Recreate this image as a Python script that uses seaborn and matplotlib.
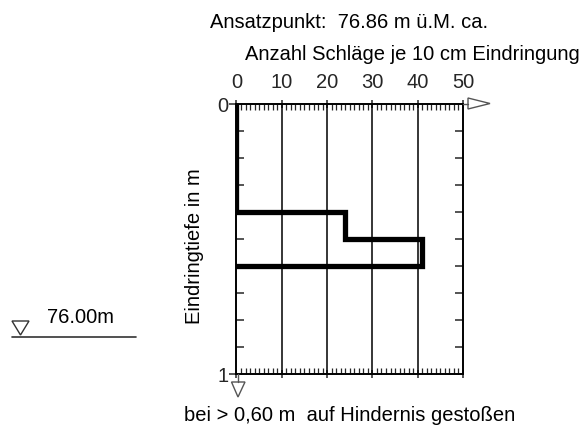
import matplotlib
matplotlib.use("Agg")
import matplotlib.pyplot as plt
from matplotlib.patches import Polygon
from matplotlib.lines import Line2D
import numpy as np
import pandas as pd
import seaborn as sns

# Dynamic probing record: blows per 10 cm over depth layers
layer_top = [0.0, 0.4, 0.5]
layer_bottom = [0.4, 0.5, 0.6]
blows = [0, 24, 41]
blow_ticks = [0, 10, 20, 30, 40, 50]
depth_ticks = [0, 1]
start_elev = "76.86"
water_elev = "76.00m"

# Step outline of the blow-count profile
px, py = [], []
for t, b, n in zip(layer_top, layer_bottom, blows):
    px += [n, n]
    py += [t, b]
px.append(0)
py.append(layer_bottom[-1])
profile = pd.DataFrame({"order": range(len(px)), "blows": px, "depth": py})

sns.set_style("white")
plt.rcParams["font.family"] = ["Liberation Sans", "DejaVu Sans"]
FS = 14.5

W, H = 588, 430
fig = plt.figure(figsize=(W / 100, H / 100), dpi=100)


def fx(x):
    return x / W


def fy(y):
    return 1 - y / H


x0, x1, y0, y1 = 236.5, 463, 104, 374
ax = fig.add_axes([fx(x0), fy(y1), fx(x1 - x0), (y1 - y0) / H])

sns.lineplot(data=profile, x="blows", y="depth", sort=False, estimator=None,
             color="black", linewidth=3.8, ax=ax,
             solid_joinstyle="miter", solid_capstyle="projecting", zorder=5)

ax.set_xlim(0, 50)
ax.set_ylim(1, 0)
ax.set_xlabel("")
ax.set_ylabel("")

for s in ax.spines.values():
    s.set_linewidth(1.4)
    s.set_color("black")

for v in blow_ticks[1:-1]:
    ax.axvline(v, color="black", lw=1.1, zorder=1)

ax.xaxis.set_ticks_position("both")
ax.xaxis.set_label_position("top")
ax.set_xticks(blow_ticks)
ax.set_xticks(np.arange(0, 51, 1), minor=True)
ax.tick_params(axis="x", which="major", direction="inout", length=6, width=1.1,
               top=True, bottom=True, labeltop=True, labelbottom=False,
               labelsize=FS, pad=6)
ax.tick_params(axis="x", which="minor", direction="in", length=4.5, width=0.9,
               top=True, bottom=True)

ax.set_yticks(depth_ticks)
ax.set_yticks(np.arange(0.1, 1.0, 0.1), minor=True)
ax.tick_params(axis="y", which="major", direction="out", length=5, width=1.1,
               left=True, right=False, labelsize=FS, pad=1)
ax.tick_params(axis="y", which="minor", direction="in", length=6, width=1.1,
               left=True, right=True)

# Axis extension arrows
top_arrow = Polygon([[fx(468), fy(98)], [fx(490), fy(103.5)], [fx(468), fy(109)]],
                    closed=True, fill=False, edgecolor="#555555", lw=1.0,
                    transform=fig.transFigure, clip_on=False)
fig.add_artist(top_arrow)
fig.add_artist(Line2D([fx(463), fx(468)], [fy(104), fy(104)], color="#555555",
                      lw=1.0, transform=fig.transFigure))
bot_arrow = Polygon([[fx(231.5), fy(382)], [fx(245), fy(382)], [fx(238), fy(397)]],
                    closed=True, fill=False, edgecolor="#555555", lw=1.0,
                    transform=fig.transFigure, clip_on=False)
fig.add_artist(bot_arrow)
fig.add_artist(Line2D([fx(238), fx(238)], [fy(374), fy(382)], color="#555555",
                      lw=1.0, transform=fig.transFigure))

# Titles and notes
fig.text(fx(210), fy(28), f"Ansatzpunkt:  {start_elev} m ü.M. ca.", fontsize=FS,
         ha="left", va="baseline", color="black")
fig.text(fx(245), fy(60), "Anzahl Schläge je 10 cm Eindringung", fontsize=FS,
         ha="left", va="baseline", color="black")
fig.text(fx(194), fy(246), "Eindringtiefe in m", fontsize=FS, rotation=90,
         ha="center", va="center", color="black")
fig.text(fx(184), fy(421), "bei > 0,60 m  auf Hindernis gestoßen", fontsize=FS,
         ha="left", va="baseline", color="black")

# Groundwater level marker
wl = Polygon([[fx(12), fy(321)], [fx(29), fy(321)], [fx(20.5), fy(335)]],
             closed=True, fill=False, edgecolor="#333333", lw=1.0,
             transform=fig.transFigure)
fig.add_artist(wl)
fig.add_artist(Line2D([fx(12), fx(136)], [fy(337), fy(337)], color="#333333",
                      lw=1.2, transform=fig.transFigure))
fig.text(fx(47), fy(323), water_elev, fontsize=FS, ha="left", va="baseline",
         color="black")

fig.savefig("out.png", dpi=100)
